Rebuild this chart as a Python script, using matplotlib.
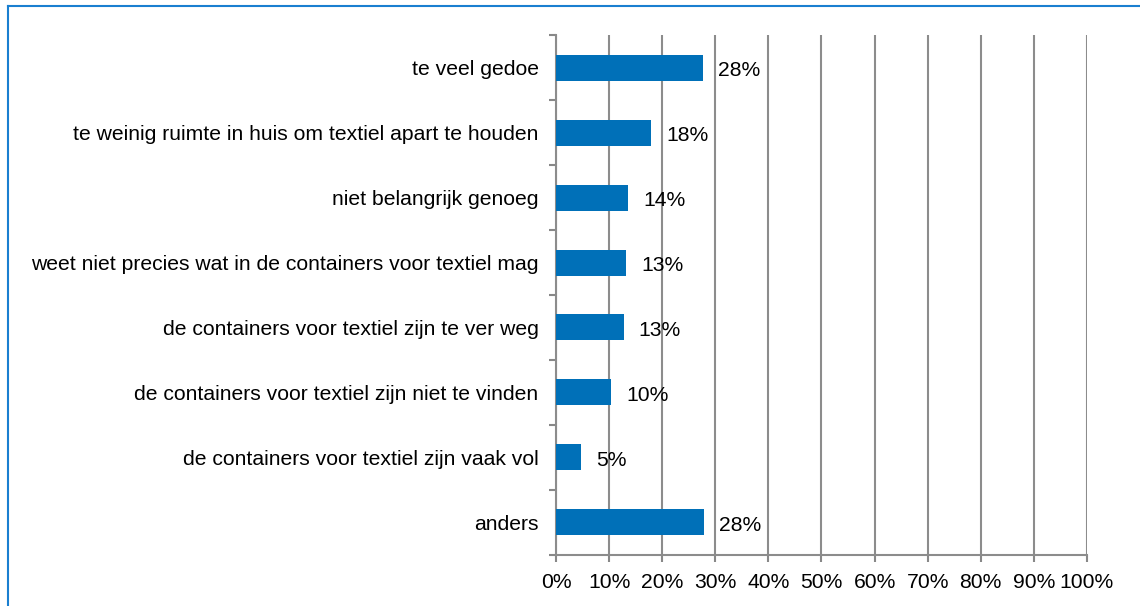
import numpy as np
import matplotlib.pyplot as plt
from matplotlib.lines import Line2D

plt.rcParams['font.family'] = ['Liberation Sans', 'DejaVu Sans']

# categorieën en waarden (in %)
categories = [
    'te veel gedoe',
    'te weinig ruimte in huis om textiel apart te houden',
    'niet belangrijk genoeg',
    'weet niet precies wat in de containers voor textiel mag',
    'de containers voor textiel zijn te ver weg',
    'de containers voor textiel zijn niet te vinden',
    'de containers voor textiel zijn vaak vol',
    'anders',
]
values = [27.7, 17.9, 13.6, 13.2, 12.8, 10.4, 4.7, 27.9]
labels = ['28%', '18%', '14%', '13%', '13%', '10%', '5%', '28%']
xticks = np.arange(0, 101, 10)

fs = 15.2
fig = plt.figure(figsize=(11.4, 6.06), dpi=100)
ax = fig.add_axes([0.4877, 0.0842, 0.4658, 0.858])

y = np.arange(len(categories))
ax.barh(y, values, height=0.4, color='#0070b8', zorder=3)
for yi, v, lab in zip(y, values, labels):
    ax.text(v + 2.8, yi + 0.04, lab, va='center', ha='left', fontsize=fs, color='black', zorder=4)

ax.set_xlim(0, 100)
ax.set_ylim(len(categories) - 0.5, -0.5)
ax.set_xticks(xticks)
ax.set_xticklabels([f'{t}%' for t in xticks], fontsize=fs)
ax.set_yticks(y)
ax.set_yticklabels(categories, fontsize=fs)
ax.tick_params(axis='y', length=0, pad=12.5)
ax.set_yticks(np.arange(-0.5, len(categories)), minor=True)
ax.tick_params(axis='y', which='minor', length=5, color='#888888', width=1.5)
ax.tick_params(axis='x', length=5, color='#888888', width=1.5, pad=8)

ax.grid(axis='x', color='#8c8c8c', linewidth=1.5, zorder=0)
for s in ['top', 'right']:
    ax.spines[s].set_visible(False)
for s in ['left', 'bottom']:
    ax.spines[s].set_color('#8c8c8c')
    ax.spines[s].set_linewidth(1.5)

# blauwe rand van het kader
W, H = 1140, 606
fig.add_artist(Line2D([8 / W, 1], [1 - 6 / H, 1 - 6 / H], color='#1a7fd0', lw=1.5))
fig.add_artist(Line2D([8 / W, 8 / W], [0, 1 - 6 / H], color='#1a7fd0', lw=1.5))

fig.savefig('out.png', dpi=100)
